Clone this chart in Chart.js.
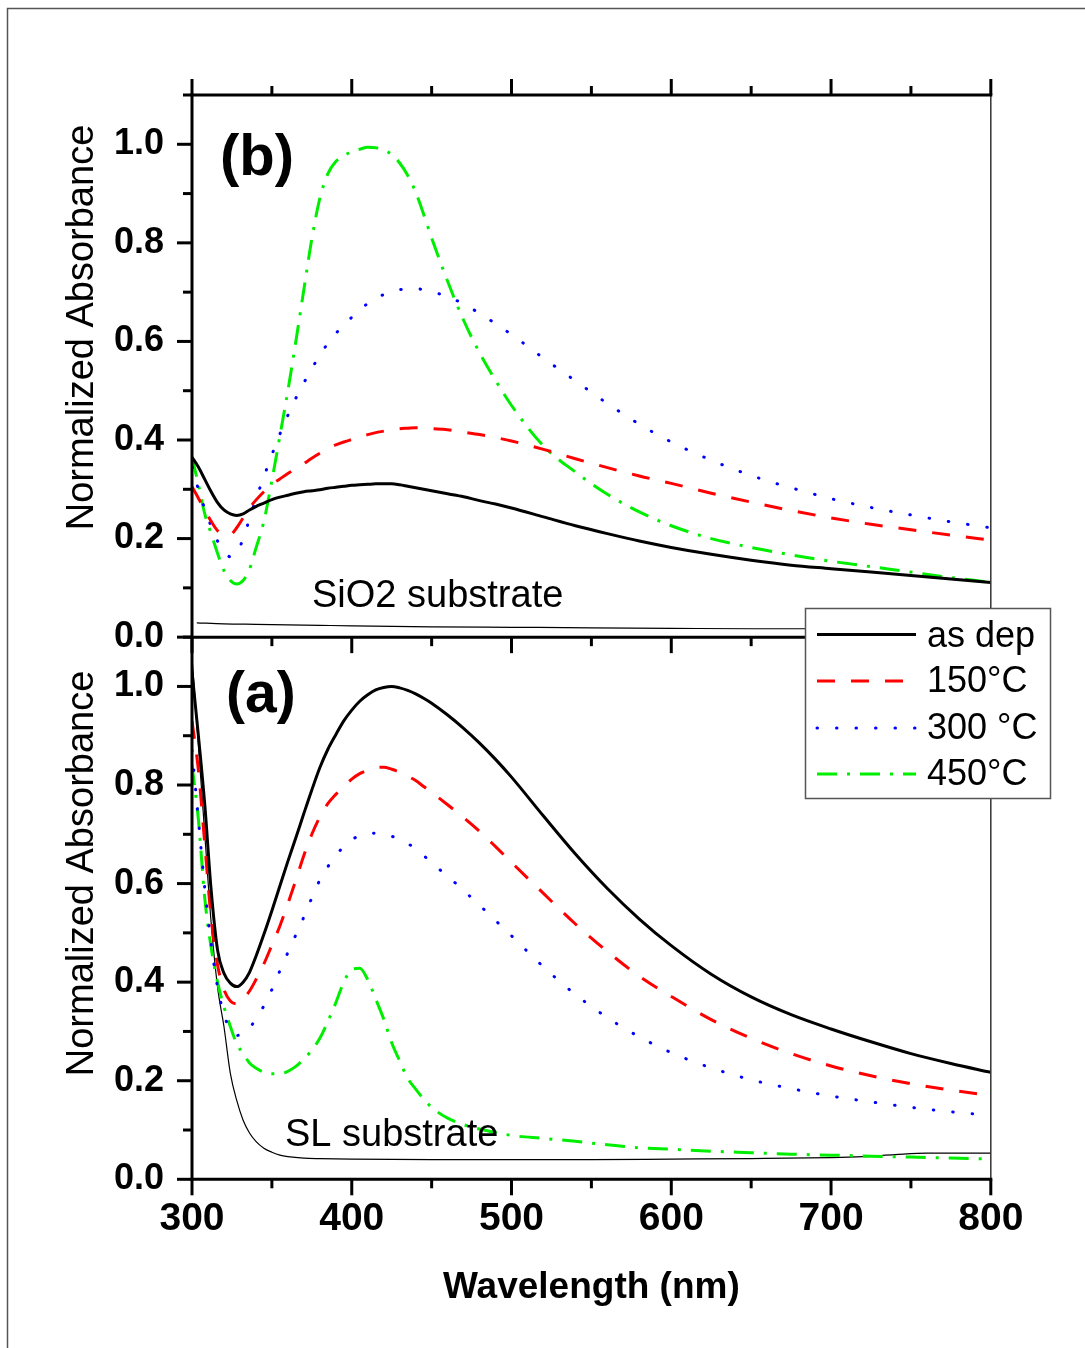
<!DOCTYPE html>
<html>
<head>
<meta charset="utf-8">
<script src="https://cdn.jsdelivr.net/npm/chart.js@4.4.1/dist/chart.umd.min.js"></script>
<style>html,body{margin:0;padding:0;background:#fff;}canvas{display:block;}</style>
</head>
<body>
<canvas id="c" width="1085" height="1348"></canvas>
<script>
// ---------- DATA ----------
const wavelengths = [300,304,308,312,316,320,324,328,332,336,340,345,350,355,360,365,370,375,380,385,390,395,400,405,410,415,420,425,430,435,440,445,450,460,470,480,490,500,520,540,560,580,600,625,650,675,700,725,750,775,800];

// Panel (b): SiO2 substrate
const bAsDep = [0.365,0.345,0.320,0.295,0.273,0.258,0.250,0.247,0.250,0.258,0.265,0.272,0.279,0.284,0.288,0.292,0.295,0.297,0.299,0.302,0.304,0.306,0.308,0.309,0.310,0.311,0.311,0.311,0.309,0.306,0.303,0.300,0.297,0.291,0.285,0.277,0.270,0.262,0.244,0.226,0.210,0.195,0.182,0.168,0.156,0.146,0.139,0.132,0.125,0.118,0.111];
const b150 = [0.305,0.282,0.258,0.235,0.216,0.207,0.208,0.222,0.242,0.262,0.278,0.295,0.310,0.321,0.332,0.342,0.352,0.363,0.373,0.382,0.390,0.396,0.401,0.406,0.411,0.415,0.418,0.421,0.423,0.424,0.425,0.424,0.423,0.421,0.416,0.411,0.405,0.398,0.381,0.362,0.344,0.327,0.312,0.292,0.274,0.257,0.242,0.229,0.218,0.207,0.197];
const b300 = [0.345,0.300,0.260,0.225,0.195,0.175,0.163,0.170,0.200,0.240,0.280,0.325,0.370,0.412,0.450,0.485,0.516,0.545,0.572,0.596,0.616,0.633,0.649,0.664,0.677,0.688,0.695,0.701,0.705,0.707,0.707,0.705,0.701,0.691,0.676,0.657,0.636,0.614,0.566,0.520,0.474,0.432,0.396,0.359,0.328,0.303,0.281,0.263,0.248,0.234,0.222];
const b450 = [0.365,0.310,0.250,0.210,0.170,0.135,0.115,0.108,0.115,0.138,0.180,0.235,0.318,0.408,0.500,0.600,0.705,0.808,0.890,0.940,0.965,0.977,0.985,0.990,0.994,0.993,0.989,0.979,0.962,0.937,0.903,0.858,0.810,0.722,0.643,0.577,0.521,0.470,0.388,0.335,0.290,0.254,0.226,0.200,0.182,0.167,0.154,0.143,0.132,0.121,0.111];
const sio2Wavelengths = [303,320,340,360,380,400,450,500,550,600,650,700,750,800];
const sio2Substrate = [0.029,0.027,0.026,0.025,0.024,0.023,0.021,0.020,0.019,0.018,0.017,0.017,0.016,0.016];

// Panel (a): SL substrate
const aAsDep = [1.030,0.900,0.760,0.586,0.465,0.418,0.398,0.391,0.400,0.420,0.452,0.497,0.545,0.595,0.645,0.693,0.742,0.790,0.835,0.872,0.902,0.930,0.952,0.970,0.983,0.993,0.998,1.000,0.997,0.992,0.985,0.976,0.966,0.942,0.915,0.885,0.852,0.816,0.737,0.660,0.590,0.528,0.474,0.416,0.370,0.334,0.305,0.279,0.255,0.235,0.217];
const a150 = [0.930,0.830,0.680,0.530,0.435,0.385,0.362,0.356,0.366,0.382,0.405,0.437,0.475,0.514,0.559,0.607,0.657,0.700,0.735,0.762,0.781,0.797,0.812,0.823,0.830,0.835,0.836,0.832,0.826,0.818,0.809,0.797,0.785,0.760,0.734,0.706,0.675,0.643,0.580,0.518,0.462,0.412,0.371,0.324,0.286,0.255,0.230,0.210,0.194,0.181,0.170];
const a300 = [0.870,0.730,0.590,0.478,0.390,0.335,0.303,0.292,0.294,0.307,0.325,0.352,0.385,0.423,0.460,0.496,0.532,0.571,0.607,0.634,0.657,0.675,0.689,0.697,0.701,0.702,0.700,0.696,0.689,0.681,0.671,0.657,0.642,0.615,0.586,0.556,0.525,0.494,0.431,0.375,0.328,0.289,0.257,0.226,0.202,0.184,0.169,0.157,0.146,0.137,0.130];
const a450 = [0.840,0.730,0.570,0.470,0.400,0.350,0.310,0.275,0.255,0.236,0.226,0.217,0.214,0.214,0.219,0.229,0.244,0.262,0.286,0.320,0.358,0.400,0.426,0.428,0.405,0.366,0.325,0.277,0.240,0.205,0.183,0.163,0.146,0.124,0.111,0.102,0.095,0.089,0.083,0.077,0.070,0.064,0.061,0.057,0.054,0.051,0.049,0.047,0.045,0.043,0.041];
const slWavelengths = [300,304,308,312,316,320,324,328,332,336,340,345,350,355,360,370,380,400,450,500,550,600,650,700,720,740,760,800];
const slSubstrate = [1.060,0.880,0.700,0.520,0.390,0.310,0.215,0.160,0.120,0.094,0.077,0.063,0.055,0.049,0.046,0.043,0.042,0.041,0.040,0.040,0.040,0.041,0.042,0.044,0.046,0.050,0.053,0.053];

const seriesLabels = ['as dep', '150\u00B0C', '300 \u00B0C', '450\u00B0C'];
const panelLabels = ['(b)', '(a)'];
const substrateLabels = ['SiO2 substrate', 'SL substrate'];
const xTicks = [300, 400, 500, 600, 700, 800];
const xMinorTicks = [350, 450, 550, 650, 750];
const yTicks = [0.0, 0.2, 0.4, 0.6, 0.8, 1.0];
const yMinorTicks = [0.1, 0.3, 0.5, 0.7, 0.9, 1.1];
const xTitle = 'Wavelength (nm)';
const yTitle = 'Normalized Absorbance';

// ---------- STYLE ----------
const FONT = "'Liberation Sans', Arial, sans-serif";
const styles = [
  {color: '#000000', dash: [], cap: 'butt'},
  {color: '#ff0000', dash: [18, 16], cap: 'butt'},
  {color: '#0000ff', dash: [0.5, 19], cap: 'round'},
  {color: '#00ee00', dash: [20, 10, 3, 10], cap: 'butt'}
];

function pts(xs, ys) { return xs.map((x, i) => ({x: x, y: ys[i]})); }
function mkSet(label, ys, axis, st) {
  return {
    label: label, data: pts(wavelengths, ys), yAxisID: axis,
    borderColor: st.color, borderWidth: 3, borderDash: st.dash, borderCapStyle: st.cap,
    pointRadius: 0, fill: false, cubicInterpolationMode: 'monotone'
  };
}
const thin = (xs, ys, axis) => ({
  label: 'substrate', data: pts(xs, ys), yAxisID: axis, borderColor: '#000', borderWidth: 1.2,
  pointRadius: 0, fill: false, cubicInterpolationMode: 'monotone'
});

const datasets = [
  mkSet(seriesLabels[0], bAsDep, 'yb', styles[0]),
  mkSet(seriesLabels[1], b150, 'yb', styles[1]),
  mkSet(seriesLabels[2], b300, 'yb', styles[2]),
  mkSet(seriesLabels[3], b450, 'yb', styles[3]),
  thin(sio2Wavelengths, sio2Substrate, 'yb'),
  mkSet(seriesLabels[0], aAsDep, 'ya', styles[0]),
  mkSet(seriesLabels[1], a150, 'ya', styles[1]),
  mkSet(seriesLabels[2], a300, 'ya', styles[2]),
  mkSet(seriesLabels[3], a450, 'ya', styles[3]),
  thin(slWavelengths, slSubstrate, 'ya')
];

const yAxis = (weight) => ({
  type: 'linear', position: 'left', stack: 'panels', stackWeight: 1, weight: weight,
  min: 0, max: 1.1,
  afterBuildTicks: s => { s.ticks = yTicks.map(v => ({value: v})); },
  afterFit: s => { s.width = 192; },
  grid: {display: false, drawTicks: false, tickLength: 0},
  border: {display: false},
  ticks: {padding: 28, color: '#000', font: {family: FONT, size: 36, weight: 'bold'}, callback: v => Number(v).toFixed(1)}
});

function line(ctx, x1, y1, x2, y2) { ctx.beginPath(); ctx.moveTo(x1, y1); ctx.lineTo(x2, y2); ctx.stroke(); }

const decor = {
  id: 'decor',
  afterDraw(chart) {
    const {ctx, chartArea: ca, scales} = chart;
    const sx = scales.x, ya = scales.ya, yb = scales.yb;
    ctx.save();
    // outer frame
    ctx.strokeStyle = '#555'; ctx.lineWidth = 1.5;
    ctx.beginPath(); ctx.moveTo(7.5, chart.height + 5); ctx.lineTo(7.5, 8.5); ctx.lineTo(chart.width + 5, 8.5); ctx.stroke();
    // right border (thin)
    ctx.strokeStyle = '#333'; ctx.lineWidth = 1.5;
    line(ctx, ca.right, ca.top, ca.right, ca.bottom);
    // thick axes
    ctx.strokeStyle = '#000'; ctx.lineWidth = 3; ctx.lineCap = 'butt';
    line(ctx, ca.left, ca.top - 1.5, ca.left, ca.bottom + 1.5);
    line(ctx, ca.left - 1.5, ca.top, ca.right + 1.5, ca.top);
    line(ctx, ca.left - 1.5, yb.bottom, ca.right, yb.bottom);
    line(ctx, ca.left - 1.5, ca.bottom, ca.right + 1.5, ca.bottom);
    // y ticks
    [ya, yb].forEach(s => {
      yTicks.forEach(v => { const y = s.getPixelForValue(v); line(ctx, ca.left - 15, y, ca.left, y); });
      yMinorTicks.forEach(v => { const y = s.getPixelForValue(v); line(ctx, ca.left - 9, y, ca.left, y); });
    });
    // x ticks: bottom (down), middle (down), top (up)
    const rows = [[ca.bottom, 1], [yb.bottom, 1], [ca.top, -1]];
    rows.forEach(([y0, d]) => {
      xTicks.forEach(v => { const x = sx.getPixelForValue(v); line(ctx, x, y0, x, y0 + d * 16); });
      xMinorTicks.forEach(v => { const x = sx.getPixelForValue(v); line(ctx, x, y0, x, y0 + d * 9); });
    });
    // y titles
    ctx.fillStyle = '#000';
    ctx.font = '38px ' + FONT;
    ctx.textAlign = 'center'; ctx.textBaseline = 'alphabetic';
    [[yb, 327.5 - 95], [ya, 873 - 636.7]].forEach(([s, off]) => {
      ctx.save(); ctx.translate(93, s.top + off); ctx.rotate(-Math.PI / 2); ctx.fillText(yTitle, 0, 0); ctx.restore();
    });
    // panel labels
    ctx.textAlign = 'left';
    ctx.font = 'bold 58px ' + FONT;
    ctx.fillText(panelLabels[0], ca.left + 28, yb.top + 80);
    ctx.font = 'bold 57px ' + FONT;
    ctx.fillText(panelLabels[1], ca.left + 34, ya.top + 75);
    // substrate labels
    ctx.font = '38px ' + FONT;
    ctx.fillText(substrateLabels[0], 312, yb.top + 512);
    ctx.fillText(substrateLabels[1], 285, ya.top + 509);
    // legend
    const lx = 805.5, ly = 608.5, lw = 245, lh = 190;
    ctx.fillStyle = '#fff'; ctx.fillRect(lx, ly, lw, lh);
    ctx.strokeStyle = '#555'; ctx.lineWidth = 1.5; ctx.strokeRect(lx, ly, lw, lh);
    const rowY = [634.5, 681, 728, 774];
    const baseY = [646.5, 692, 738.5, 785];
    seriesLabels.forEach((lab, i) => {
      const st = styles[i];
      ctx.strokeStyle = st.color; ctx.lineWidth = 3; ctx.lineCap = st.cap; ctx.setLineDash(st.dash);
      line(ctx, 817, rowY[i], 916, rowY[i]);
      ctx.setLineDash([]); ctx.lineCap = 'butt';
      ctx.fillStyle = '#000'; ctx.font = '36px ' + FONT; ctx.textAlign = 'left';
      ctx.fillText(lab, 927, baseY[i]);
    });
    ctx.restore();
  }
};

new Chart(document.getElementById('c'), {
  type: 'line',
  data: {datasets: datasets},
  options: {
    responsive: false, animation: false,
    layout: {padding: {left: 0, right: 94.2, top: 95, bottom: 28.7}},
    plugins: {legend: {display: false}, tooltip: {enabled: false}},
    scales: {
      x: {
        type: 'linear', position: 'bottom', min: 300, max: 800,
        afterBuildTicks: s => { s.ticks = xTicks.map(v => ({value: v})); },
        afterFit: s => { s.height = 140; },
        grid: {display: false, drawTicks: false, tickLength: 0},
        border: {display: false},
        ticks: {padding: 17, color: '#000', font: {family: FONT, size: 39, weight: 'bold'}, maxRotation: 0, callback: v => String(v)},
        title: {display: true, text: xTitle, color: '#000', font: {family: FONT, size: 37, weight: 'bold'}, padding: {top: 0, bottom: 9}}
      },
      ya: yAxis(1),
      yb: yAxis(2)
    }
  },
  plugins: [decor]
});
</script>
</body>
</html>
